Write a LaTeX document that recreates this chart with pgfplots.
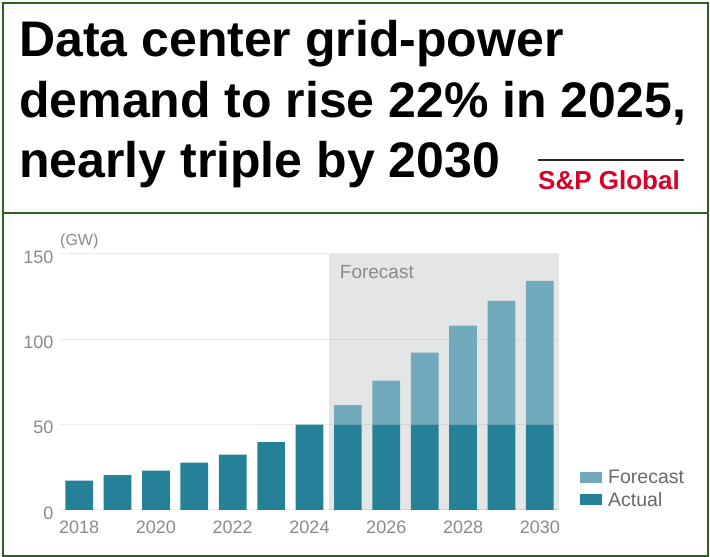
\documentclass[border=0pt]{standalone}
\usepackage{fontspec}
\setmainfont{Liberation Sans}
\usepackage{pgfplots}
\usepackage{pgfplotstable}
\pgfplotsset{compat=1.18}
\definecolor{actual}{RGB}{37,129,152}
\definecolor{fcst}{RGB}{112,170,188}
\definecolor{fcbg}{RGB}{228,229,229}
\definecolor{tickc}{RGB}{138,138,138}
\definecolor{legc}{RGB}{105,105,105}
\definecolor{framec}{RGB}{42,98,32}
\definecolor{spred}{RGB}{214,0,42}

\pgfplotstableread{
year actual forecast
2018 17.2 0
2019 20.5 0
2020 23.0 0
2021 27.7 0
2022 32.4 0
2023 39.8 0
2024 50.0 0
2025 50.0 11.5
2026 50.0 25.8
2027 50.0 42.2
2028 50.0 58.0
2029 50.0 72.6
2030 50.0 84.3
}\datatable

\pgfplotsset{
  commonax/.style={
    at={(60pt,47pt)}, anchor=south west,
    scale only axis, width=499pt, height=256pt,
    xmin=2017.5, xmax=2030.5, ymin=0, ymax=150,
  }
}

\begin{document}
\begin{tikzpicture}[x=1pt,y=1pt]
\useasboundingbox (0,0) rectangle (710,557);
\fill[white] (0,0) rectangle (710,557);
% title
\node[anchor=base west, inner sep=0, font=\fontsize{50}{60}\selectfont\bfseries] at (19,500) {Data center grid-power};
\node[anchor=base west, inner sep=0, font=\fontsize{50}{60}\selectfont\bfseries] at (19,439) {demand to rise 22\% in 2025,};
\node[anchor=base west, inner sep=0, font=\fontsize{50}{60}\selectfont\bfseries] at (19,379) {nearly triple by 2030};
% logo
\draw[line width=2pt, black!85] (538,397) -- (684,397);
\node[anchor=base west, inner sep=0, text=spred, font=\fontsize{26}{30}\selectfont\bfseries] at (538,367) {S\&P Global};

% background axis: forecast shading
\begin{axis}[commonax, hide axis]
\fill[fcbg] (axis cs:2024.5,0) rectangle (axis cs:2030.5,150);
\end{axis}

\begin{axis}[
  commonax,
  ybar stacked, bar width=27.7pt,
  axis line style={draw=none},
  major tick length=0pt,
  tick style={draw=none},
  ytick={0,50,100,150},
  xtick={2018,2020,...,2030},
  ymajorgrids, grid style={draw=black, draw opacity=0.075, line width=1pt},
  /pgf/number format/assume math mode=true,
  x tick label style={/pgf/number format/1000 sep={}, font=\fontsize{18}{18}\selectfont, text=tickc, yshift=-7pt},
  y tick label style={font=\fontsize{18}{18}\selectfont, text=tickc, xshift=-3pt, yshift=-3pt},
  legend style={at={(1.042,0.0)}, anchor=south west, draw=none, fill=none, inner sep=0pt,
    font=\fontsize{19.5}{19.5}\selectfont, text=legc, row sep=3pt,
    /tikz/every odd column/.append style={column sep=4pt}},
  legend cell align=left,
  reverse legend,
  legend image code/.code={\fill[#1] (0pt,-5.5pt) rectangle (22pt,5.5pt);},
  clip=false,
]
\addplot[fill=actual, draw=none] table[x=year, y=actual] {\datatable};
\addlegendentry{Actual}
\addplot[fill=fcst, draw=none] table[x=year, y=forecast] {\datatable};
\addlegendentry{Forecast}
\node[anchor=west, inner sep=0pt, text=tickc, font=\fontsize{19}{19}\selectfont] at (axis cs:2024.5,150) [xshift=11pt, yshift=-18pt] {Forecast};
\node[anchor=west, inner sep=0pt, text=tickc, font=\fontsize{16}{16}\selectfont] at (rel axis cs:0,1) [yshift=13pt] {(GW)};
\end{axis}
% frame
\draw[framec, line width=2pt] (3,1) rectangle (708,554);
\draw[framec, line width=2pt] (3,344) -- (708,344);
\end{tikzpicture}
\end{document}
